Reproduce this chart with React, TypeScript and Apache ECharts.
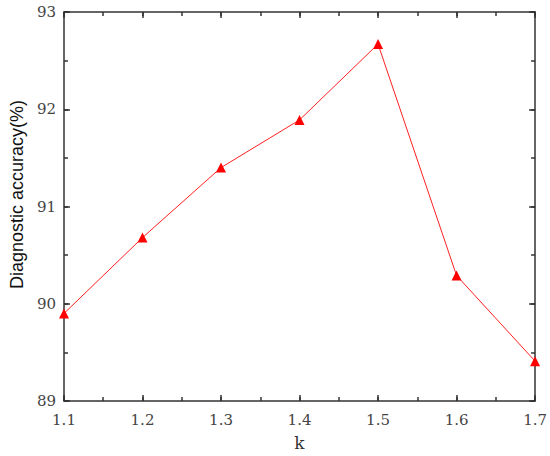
import React, { useEffect, useRef } from "react";
import * as echarts from "echarts";

const kValues = [1.1, 1.2, 1.3, 1.4, 1.5, 1.6, 1.7];
const accuracy = [89.9, 90.68, 91.4, 91.89, 92.67, 90.29, 89.41];
const xMin = 1.1;
const xMax = 1.7;
const yMin = 89;
const yMax = 93;

export default function App() {
  const ref = useRef<HTMLDivElement>(null);
  useEffect(() => {
    if (!ref.current) return;
    const chart = echarts.init(ref.current, null, { renderer: "svg" });
    const axisLine = { show: true, lineStyle: { color: "#333", width: 1.5 } };
    const tick = { inside: true, length: 6, lineStyle: { color: "#333", width: 1.5 } };
    const minorTick = { show: true, inside: true, length: 4, lineStyle: { color: "#333", width: 1.5 } };
    const serif = "'DejaVu Serif', 'Liberation Serif', serif";
    const plainX = (position: string, interval: number, t: any, line: boolean) => ({
      type: "value",
      position,
      min: xMin,
      max: xMax,
      interval,
      axisLine: line ? axisLine : { show: false },
      axisTick: t,
      splitLine: { show: false },
      axisLabel: { show: false },
    });
    const plainY = (position: string, interval: number, t: any, line: boolean) => ({
      type: "value",
      position,
      min: yMin,
      max: yMax,
      interval,
      axisLine: line ? axisLine : { show: false },
      axisTick: t,
      splitLine: { show: false },
      axisLabel: { show: false },
    });
    chart.setOption({
      animation: false,
      backgroundColor: "#fff",
      grid: { left: 53, right: 14, top: 12, bottom: 55, containLabel: false },
      xAxis: [
        {
          type: "value",
          position: "bottom",
          min: xMin,
          max: xMax,
          interval: 0.1,
          name: "k",
          nameLocation: "middle",
          nameGap: 33,
          nameTextStyle: { fontFamily: serif, fontSize: 17, color: "#333" },
          axisLine,
          axisTick: tick,
          splitLine: { show: false },
          axisLabel: {
            fontFamily: serif,
            fontSize: 15,
            color: "#444",
            margin: 11,
            formatter: (v: number) => v.toFixed(1),
          },
        },
        plainX("top", 0.1, tick, true),
        plainX("bottom", 0.05, minorTick, false),
        plainX("top", 0.05, minorTick, false),
      ],
      yAxis: [
        {
          type: "value",
          position: "left",
          min: yMin,
          max: yMax,
          interval: 1,
          name: "Diagnostic accuracy(%)",
          nameLocation: "middle",
          nameGap: 35,
          nameTextStyle: {
            fontFamily: "'Liberation Sans', Arial, sans-serif",
            fontSize: 18,
            color: "#111",
            padding: [0, 0, 0, 24],
          },
          axisLine,
          axisTick: tick,
          splitLine: { show: false },
          axisLabel: { fontFamily: serif, fontSize: 15, color: "#444", margin: 8 },
        },
        plainY("right", 1, tick, true),
        plainY("left", 0.5, minorTick, false),
        plainY("right", 0.5, minorTick, false),
      ],
      series: [
        {
          type: "line",
          xAxisIndex: 0,
          yAxisIndex: 0,
          data: kValues.map((k, i) => [k, accuracy[i]]),
          symbol: "triangle",
          symbolSize: 10,
          lineStyle: { color: "#ff2020", width: 1 },
          itemStyle: { color: "#ff0000" },
          clip: false,
        },
      ],
    });
    return () => chart.dispose();
  }, []);
  return (
    <div
      ref={ref}
      style={{ position: "absolute", left: 0, top: 0, width: 550, height: 456 }}
    />
  );
}
